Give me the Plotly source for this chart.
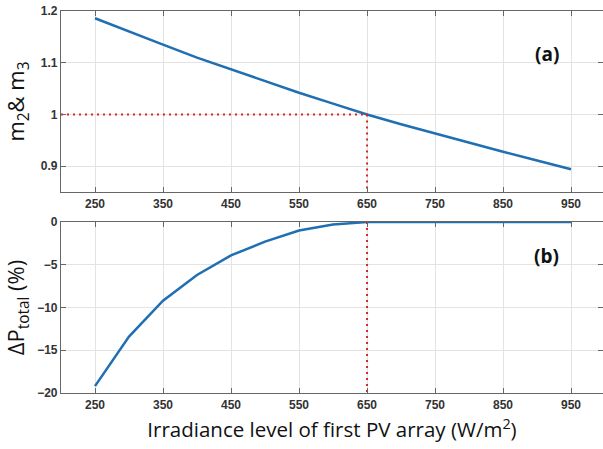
import plotly.graph_objects as go

irr = [250, 300, 350, 400, 450, 500, 550, 600, 650, 700, 750, 800, 850, 900, 950]
m_vals = [1.186, 1.160, 1.135, 1.110, 1.087, 1.064, 1.042, 1.021, 1.000, 0.981, 0.963, 0.945, 0.928, 0.911, 0.894]
dp_vals = [-19.2, -13.4, -9.2, -6.2, -3.9, -2.3, -1.0, -0.3, 0, 0, 0, 0, 0, 0, 0]
x_ticks = [250, 350, 450, 550, 650, 750, 850, 950]
ya_ticks = [0.9, 1.0, 1.1, 1.2]
ya_labels = ["0.9", "1", "1.1", "1.2"]
yb_ticks = [-20, -15, -10, -5, 0]
opt_x = 650
opt_m = 1.0

blue = "#1f6fb2"
red = "#d62728"
fig = go.Figure()
fig.add_trace(go.Scatter(x=irr, y=m_vals, mode="lines", line=dict(color=blue, width=2.5),
                         xaxis="x", yaxis="y", showlegend=False))
fig.add_trace(go.Scatter(x=[200, opt_x, opt_x], y=[opt_m, opt_m, 0.85], mode="lines",
                         line=dict(color=red, width=2, dash="2px,4px"),
                         xaxis="x", yaxis="y", showlegend=False))
fig.add_trace(go.Scatter(x=irr, y=dp_vals, mode="lines", line=dict(color=blue, width=2.5),
                         xaxis="x2", yaxis="y2", showlegend=False))
fig.add_trace(go.Scatter(x=[opt_x, opt_x], y=[0, -20], mode="lines",
                         line=dict(color=red, width=2, dash="2px,4px"),
                         xaxis="x2", yaxis="y2", showlegend=False))

tickfont = dict(family="Liberation Sans, Arial", size=12, color="#333333", weight="bold")
common_x = dict(range=[200, 997], tickvals=x_ticks, showgrid=True, gridcolor="#e3e3e3",
                showline=True, linecolor="#666666", linewidth=1.2, mirror="ticks",
                ticks="inside", ticklen=5, tickcolor="#666666", tickfont=tickfont, zeroline=False)
common_y = dict(showgrid=True, gridcolor="#e3e3e3", showline=True, linecolor="#666666",
                linewidth=1.2, mirror="ticks", ticks="inside", ticklen=5, tickcolor="#666666",
                tickfont=tickfont, zeroline=False)

title_font = dict(family="Open Sans, Liberation Sans", color="#111111")

fig.update_layout(
    width=603, height=449,
    margin=dict(l=61, r=0, t=11, b=56),
    paper_bgcolor="white", plot_bgcolor="white",
    xaxis=dict(domain=[0, 1], anchor="y", **common_x),
    yaxis=dict(domain=[0.526, 1], anchor="x", range=[0.85, 1.2], tickvals=ya_ticks,
               ticktext=ya_labels,
               title=dict(text="m<sub>2</sub>& m<sub>3</sub>", standoff=10,
                          font=dict(size=22, **title_font)),
               **common_y),
    xaxis2=dict(domain=[0, 1], anchor="y2",
                title=dict(text="Irradiance level of first PV array (W/m<sup>2</sup>)", standoff=12,
                           font=dict(size=20.5, **title_font)),
                **common_x),
    yaxis2=dict(domain=[0, 0.4476], anchor="x2", range=[-20, 0], tickvals=yb_ticks,
                title=dict(text="ΔP<sub>total</sub> (%)", standoff=6,
                           font=dict(size=22, **title_font)),
                **common_y),
    annotations=[
        dict(text="<b>(a)</b>", x=0.922, y=0.926, xref="paper", yref="paper", showarrow=False,
             font=dict(size=19, **title_font)),
        dict(text="<b>(b)</b>", x=0.922, y=0.358, xref="paper", yref="paper", showarrow=False,
             font=dict(size=19, **title_font)),
    ],
)

fig.write_html("out.html")
